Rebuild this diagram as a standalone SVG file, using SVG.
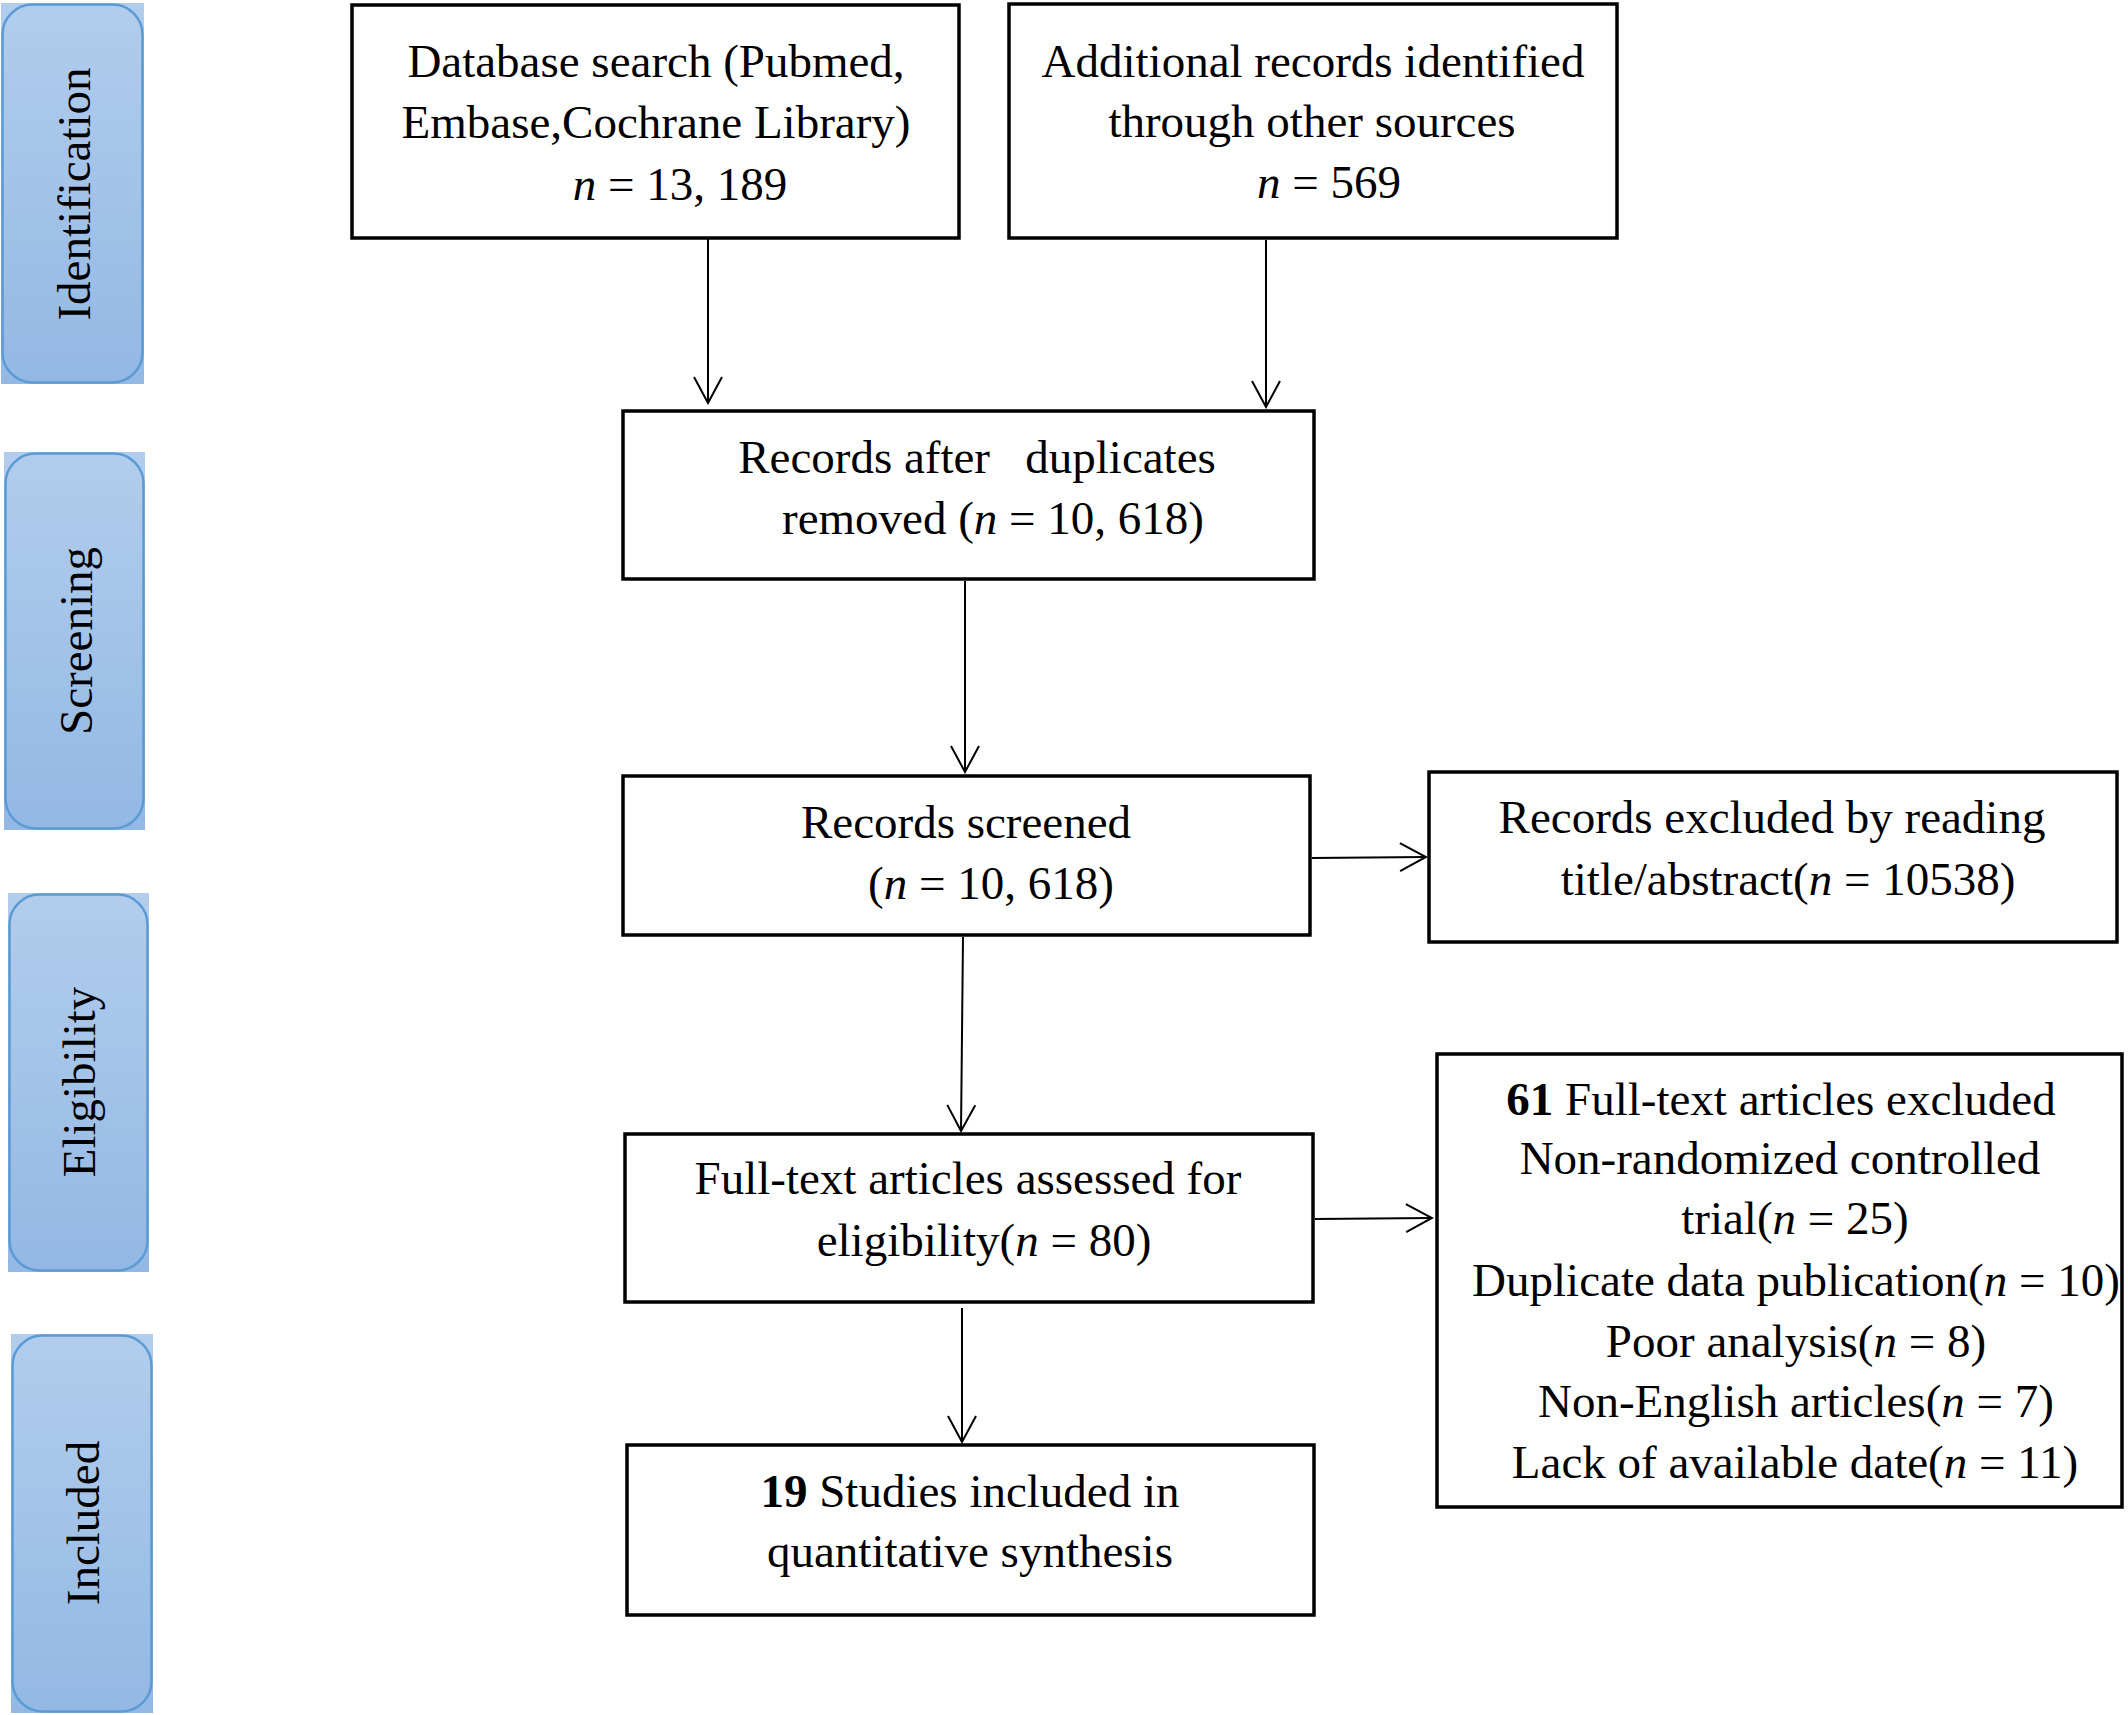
<svg xmlns="http://www.w3.org/2000/svg" width="2128" height="1715" viewBox="0 0 2128 1715">
<style>
.box{fill:#fff;stroke:#000;stroke-width:3.5}
.t{font-family:"Liberation Serif","Times New Roman",serif;font-size:47px;fill:#000;text-anchor:middle}
.tab{font-family:"Liberation Serif","Times New Roman",serif;font-size:47px;fill:#000;text-anchor:middle}
.tabfill{fill:url(#g)}
.tabline{fill:none;stroke:#5b9bd5;stroke-width:2.5}
.c{fill:none;stroke:#000;stroke-width:2;marker-end:url(#ah)}
i,.i{font-style:italic}
.b{font-weight:bold}
</style>
<defs>
<linearGradient id="g" x1="0" y1="0" x2="0" y2="1">
<stop offset="0" stop-color="#b2cdec"/>
<stop offset="1" stop-color="#93b8e4"/>
</linearGradient>
<marker id="ah" markerUnits="userSpaceOnUse" viewBox="0 0 30 32" refX="28" refY="16" markerWidth="30" markerHeight="32" orient="auto">
<path d="M2,2 L28,16 L2,30" fill="none" stroke="#000" stroke-width="2"/>
</marker>
</defs>
<rect width="2128" height="1715" fill="#fff"/>

<g id="tab-identification">
<rect class="tabfill" x="1" y="3" width="143" height="381"/>
<rect class="tabline" x="2.5" y="4.5" width="140" height="378" rx="30"/>
<text class="tab" transform="translate(90,194) rotate(-90)">Identification</text>
</g>
<g id="tab-screening">
<rect class="tabfill" x="4" y="452" width="141" height="378"/>
<rect class="tabline" x="5.5" y="453.5" width="138" height="375" rx="30"/>
<text class="tab" transform="translate(92,641) rotate(-90)">Screening</text>
</g>
<g id="tab-eligibility">
<rect class="tabfill" x="8" y="893" width="141" height="379"/>
<rect class="tabline" x="9.5" y="894.5" width="138" height="376" rx="30"/>
<text class="tab" transform="translate(95,1082) rotate(-90)">Eligibility</text>
</g>
<g id="tab-included">
<rect class="tabfill" x="11" y="1334" width="142" height="379"/>
<rect class="tabline" x="12.5" y="1335.5" width="139" height="376" rx="30"/>
<text class="tab" transform="translate(99,1523) rotate(-90)">Included</text>
</g>

<g id="connectors">
<path class="c" d="M708,238 L708,403"/>
<path class="c" d="M1266,240 L1266,407"/>
<path class="c" d="M965,581 L965,772"/>
<path class="c" d="M963,937 L961,1131"/>
<path class="c" d="M1312,858 L1426,857"/>
<path class="c" d="M1315,1219 L1432,1218"/>
<path class="c" d="M962,1308 L962,1442"/>
</g>

<g id="db-search">
<rect class="box" x="352" y="5" width="607" height="233"/>
<text class="t" x="656" y="77">Database search (Pubmed,</text>
<text class="t" x="656" y="138">Embase,Cochrane Library)</text>
<text class="t" x="680" y="200"><tspan class="i">n</tspan> = 13, 189</text>
</g>
<g id="other-sources">
<rect class="box" x="1009" y="4" width="608" height="234"/>
<text class="t" x="1313" y="77">Additional records identified</text>
<text class="t" x="1312" y="137">through other sources</text>
<text class="t" x="1329" y="198"><tspan class="i">n</tspan> = 569</text>
</g>
<g id="after-duplicates">
<rect class="box" x="623" y="411" width="691" height="168"/>
<text class="t" x="977" y="473" xml:space="preserve">Records after   duplicates</text>
<text class="t" x="993" y="534">removed (<tspan class="i">n</tspan> = 10, 618)</text>
</g>
<g id="screened">
<rect class="box" x="623" y="776" width="687" height="159"/>
<text class="t" x="966" y="838">Records screened</text>
<text class="t" x="991" y="899">(<tspan class="i">n</tspan> = 10, 618)</text>
</g>
<g id="excluded-title">
<rect class="box" x="1429" y="772" width="688" height="170"/>
<text class="t" x="1772" y="833">Records excluded by reading</text>
<text class="t" x="1788" y="895">title/abstract(<tspan class="i">n</tspan> = 10538)</text>
</g>
<g id="full-text">
<rect class="box" x="625" y="1134" width="688" height="168"/>
<text class="t" x="968" y="1194">Full-text articles assessed for</text>
<text class="t" x="984" y="1256">eligibility(<tspan class="i">n</tspan> = 80)</text>
</g>
<g id="full-text-excluded">
<rect class="box" x="1437" y="1054" width="685" height="453"/>
<text class="t" x="1781" y="1115"><tspan class="b">61</tspan> Full-text articles excluded</text>
<text class="t" x="1780" y="1174">Non-randomized controlled</text>
<text class="t" x="1795" y="1234">trial(<tspan class="i">n</tspan> = 25)</text>
<text class="t" x="1796" y="1296">Duplicate data publication(<tspan class="i">n</tspan> = 10)</text>
<text class="t" x="1796" y="1357">Poor analysis(<tspan class="i">n</tspan> = 8)</text>
<text class="t" x="1796" y="1417">Non-English articles(<tspan class="i">n</tspan> = 7)</text>
<text class="t" x="1795" y="1478">Lack of available date(<tspan class="i">n</tspan> = 11)</text>
</g>
<g id="included">
<rect class="box" x="627" y="1445" width="687" height="170"/>
<text class="t" x="970" y="1507"><tspan class="b">19</tspan> Studies included in</text>
<text class="t" x="970" y="1567">quantitative synthesis</text>
</g>
</svg>
